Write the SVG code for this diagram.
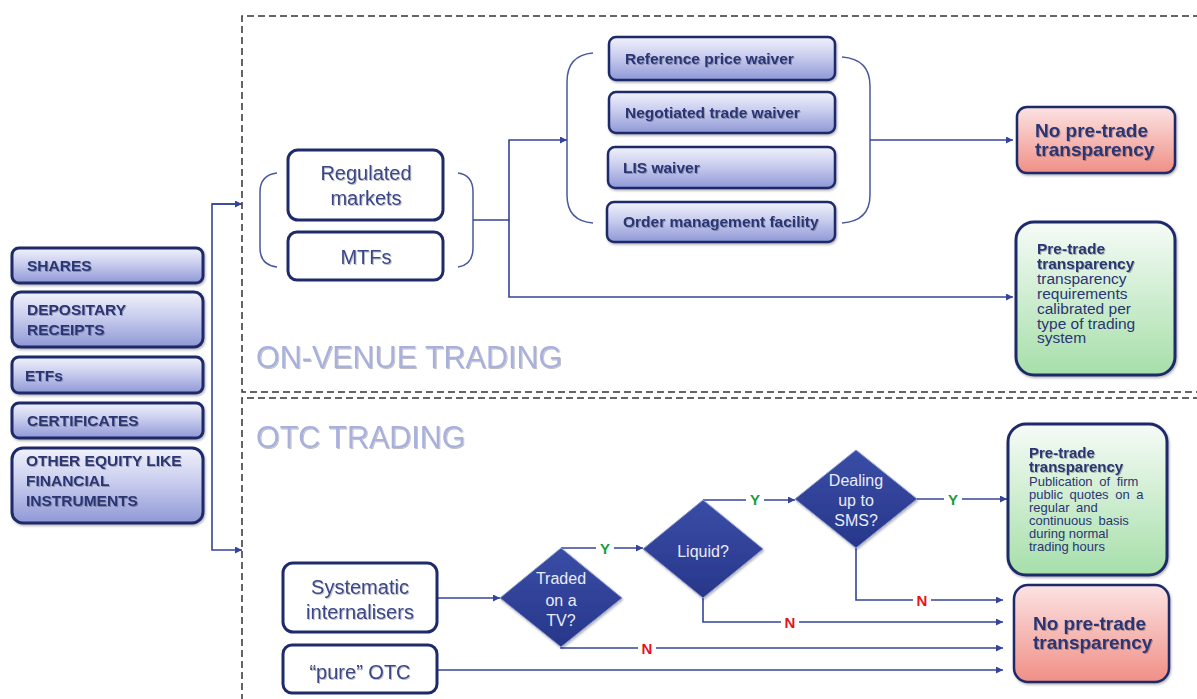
<svg xmlns="http://www.w3.org/2000/svg" width="1197" height="699" viewBox="0 0 1197 699">
<defs>
  <linearGradient id="gBlue" x1="0" y1="0" x2="0" y2="1">
    <stop offset="0" stop-color="#f1f2fb"/>
    <stop offset="0.45" stop-color="#c9cdee"/>
    <stop offset="1" stop-color="#8f98d6"/>
  </linearGradient>
  <linearGradient id="gRed" x1="0" y1="0" x2="0" y2="1">
    <stop offset="0" stop-color="#fbe3e3"/>
    <stop offset="1" stop-color="#f08f86"/>
  </linearGradient>
  <linearGradient id="gGreen" x1="0" y1="0" x2="0" y2="1">
    <stop offset="0" stop-color="#f6fbf7"/>
    <stop offset="1" stop-color="#a6dfa9"/>
  </linearGradient>
  <linearGradient id="gDia" x1="0" y1="0" x2="0" y2="1">
    <stop offset="0" stop-color="#3a4da6"/>
    <stop offset="1" stop-color="#27378a"/>
  </linearGradient>
  <filter id="sh" x="-10%" y="-10%" width="120%" height="130%">
    <feDropShadow dx="1" dy="1.5" stdDeviation="1.2" flood-color="#000" flood-opacity="0.3"/>
  </filter>
  <filter id="tsh" x="-5%" y="-20%" width="110%" height="150%">
    <feDropShadow dx="1" dy="1" stdDeviation="0.6" flood-color="#000" flood-opacity="0.25"/>
  </filter>
  <marker id="arr" viewBox="0 0 10 10" refX="10" refY="5" markerWidth="7" markerHeight="7" orient="auto" markerUnits="userSpaceOnUse">
    <path d="M0,0 L10,5 L0,10 z" fill="#34449a"/>
  </marker>
  <style>
    .lbox { fill: url(#gBlue); stroke: #1f2a6b; stroke-width: 3; filter: url(#sh); }
    .wbox { fill: url(#gBlue); stroke: #1f2a6b; stroke-width: 2.5; filter: url(#sh); }
    .obox { fill: #ffffff; stroke: #1f2a6b; stroke-width: 3; }
    .rbox { fill: url(#gRed); stroke: #1f2a6b; stroke-width: 2.5; filter: url(#sh); }
    .gbox { fill: url(#gGreen); stroke: #1f2a6b; stroke-width: 3; filter: url(#sh); }
    .dia { fill: url(#gDia); stroke: #8b98cf; stroke-width: 1; filter: url(#sh); }
    .bt { font-family: "Liberation Sans", Arial, sans-serif; font-weight: bold; fill: #2a3573; filter: url(#tsh); }
    .lt { font-size: 15.5px; }
    .wt { font-size: 15.5px; }
    .nt { font-family: "Liberation Sans", Arial, sans-serif; fill: #3b4788; font-size: 20px; text-anchor: middle; filter: url(#tsh); }
    .dt { font-family: "Liberation Sans", Arial, sans-serif; fill: #e9ecf8; font-size: 16px; text-anchor: middle; }
    .big { font-size: 19px; }
    .rt { font-family: "Liberation Sans", Arial, sans-serif; fill: #2a3573; }
    .sec { font-family: "Liberation Sans", Arial, sans-serif; font-size: 30.5px; fill: #a9b0db; filter: url(#tsh); }
    .dash { fill: none; stroke: #333; stroke-width: 1.5; stroke-dasharray: 7 4; }
    .c { fill: none; stroke: #34449a; stroke-width: 1.6; }
    .br { fill: none; stroke: #4a58a0; stroke-width: 1.5; }
    .yl { font-family: "Liberation Sans", Arial, sans-serif; font-weight: bold; font-size: 15px; fill: #1e9b3e; text-anchor: middle; }
    .nl { font-family: "Liberation Sans", Arial, sans-serif; font-weight: bold; font-size: 15px; fill: #e3141c; text-anchor: middle; }
    .lblbg { fill: #ffffff; }
  </style>
</defs>

<rect width="1197" height="699" fill="#ffffff"/>

<!-- section frames -->
<g id="frames">
  <path class="dash" d="M1200,16 H242 V392 H1200"/>
  <path class="dash" d="M1200,398 H242 V710"/>
  <text class="sec" x="256" y="368">ON-VENUE TRADING</text>
  <text class="sec" x="256" y="448">OTC TRADING</text>
</g>

<!-- brackets -->
<g id="brackets">
  <path class="br" d="M277,173 Q260,175 260,192 V248 Q260,265 277,267"/>
  <path class="br" d="M458,173 Q473,175 473,192 V248 Q473,265 458,267"/>
  <path class="br" d="M593,53 Q567,55 567,82 V195 Q567,221 593,223"/>
  <path class="br" d="M842,57 Q870,59 870,86 V195 Q870,221 842,223"/>
</g>

<!-- connectors -->
<g id="connectors">
  <path class="c" d="M242,204 H212 V550 H242" marker-end="url(#arr)"/>
  <path class="c" d="M212,204 H242" marker-end="url(#arr)"/>
  <path class="c" d="M473,220 H509 V140 H567" marker-end="url(#arr)"/>
  <path class="c" d="M509,220 V297 H1013" marker-end="url(#arr)"/>
  <path class="c" d="M870,140 H1013" marker-end="url(#arr)"/>
  <path class="c" d="M437,598 H500" marker-end="url(#arr)"/>
  <path class="c" d="M561,548 H643" marker-end="url(#arr)"/>
  <path class="c" d="M703,500 H795" marker-end="url(#arr)"/>
  <path class="c" d="M917,499 H1007" marker-end="url(#arr)"/>
  <path class="c" d="M856,548 V600 H1003" marker-end="url(#arr)"/>
  <path class="c" d="M703,598 V622 H1003" marker-end="url(#arr)"/>
  <path class="c" d="M561,647 V648 H1003" marker-end="url(#arr)"/>
  <path class="c" d="M437,670 H1003" marker-end="url(#arr)"/>
  <rect class="lblbg" x="596" y="538" width="18" height="20"/>
  <text class="yl" x="605" y="554">Y</text>
  <rect class="lblbg" x="746" y="489" width="18" height="20"/>
  <text class="yl" x="755" y="505">Y</text>
  <rect class="lblbg" x="944" y="489" width="18" height="20"/>
  <text class="yl" x="953" y="505">Y</text>
  <rect class="lblbg" x="913" y="590" width="18" height="20"/>
  <text class="nl" x="922" y="606">N</text>
  <rect class="lblbg" x="781" y="612" width="18" height="20"/>
  <text class="nl" x="790" y="628">N</text>
  <rect class="lblbg" x="638" y="638" width="18" height="20"/>
  <text class="nl" x="647" y="654">N</text>
</g>

<!-- instrument boxes -->
<g id="shares">
  <rect class="lbox" x="12" y="248" width="191" height="35" rx="7"/>
  <text class="bt lt" x="27" y="271">SHARES</text>
</g>
<g id="depositary">
  <rect class="lbox" x="12" y="292" width="191" height="55" rx="9"/>
  <text class="bt lt" x="27" y="315">DEPOSITARY</text>
  <text class="bt lt" x="27" y="335">RECEIPTS</text>
</g>
<g id="etfs">
  <rect class="lbox" x="12" y="357" width="191" height="36" rx="7"/>
  <text class="bt lt" x="25" y="381">ETFs</text>
</g>
<g id="certificates">
  <rect class="lbox" x="12" y="403" width="191" height="35" rx="7"/>
  <text class="bt lt" x="27" y="426">CERTIFICATES</text>
</g>
<g id="other-equity">
  <rect class="lbox" x="12" y="448" width="191" height="75" rx="11"/>
  <text class="bt lt" x="26" y="466">OTHER EQUITY LIKE</text>
  <text class="bt lt" x="26" y="486">FINANCIAL</text>
  <text class="bt lt" x="26" y="506">INSTRUMENTS</text>
</g>

<!-- venues -->
<g id="regulated-markets">
  <rect class="obox" x="288" y="150" width="155" height="70" rx="10"/>
  <text class="nt" x="366" y="180">Regulated</text>
  <text class="nt" x="366" y="205">markets</text>
</g>
<g id="mtfs">
  <rect class="obox" x="288" y="232" width="155" height="48" rx="9"/>
  <text class="nt" x="366" y="264">MTFs</text>
</g>

<!-- waivers -->
<g id="reference-price-waiver">
  <rect class="wbox" x="609" y="37" width="226" height="43" rx="7"/>
  <text class="bt wt" x="625" y="64">Reference price waiver</text>
</g>
<g id="negotiated-trade-waiver">
  <rect class="wbox" x="609" y="92" width="226" height="41" rx="7"/>
  <text class="bt wt" x="625" y="118">Negotiated trade waiver</text>
</g>
<g id="lis-waiver">
  <rect class="wbox" x="608" y="147" width="227" height="41" rx="7"/>
  <text class="bt wt" x="623" y="173">LIS waiver</text>
</g>
<g id="order-management-facility">
  <rect class="wbox" x="607" y="202" width="228" height="40" rx="7"/>
  <text class="bt wt" x="623" y="227">Order management facility</text>
</g>

<!-- on-venue outcomes -->
<g id="no-pretrade-top">
  <rect class="rbox" x="1017" y="107" width="158" height="66" rx="10"/>
  <text class="bt big" x="1035" y="137">No pre-trade</text>
  <text class="bt big" x="1035" y="156">transparency</text>
</g>
<g id="pretrade-top">
  <rect class="gbox" x="1016" y="222" width="159" height="153" rx="18"/>
  <text class="bt" x="1037" y="254" font-size="15.5">Pre-trade</text>
  <text class="bt" x="1037" y="269" font-size="15.5">transparency</text>
  <text class="rt" x="1037" y="284" font-size="15.5">transparency</text>
  <text class="rt" x="1037" y="299" font-size="15.5">requirements</text>
  <text class="rt" x="1037" y="314" font-size="15.5">calibrated per</text>
  <text class="rt" x="1037" y="328.5" font-size="15.5">type of trading</text>
  <text class="rt" x="1037" y="343" font-size="15.5">system</text>
</g>

<!-- OTC -->
<g id="systematic-internalisers">
  <rect class="obox" x="283" y="563" width="154" height="69" rx="10"/>
  <text class="nt" x="360" y="594">Systematic</text>
  <text class="nt" x="360" y="619">internalisers</text>
</g>
<g id="pure-otc">
  <rect class="obox" x="283" y="645" width="154" height="48" rx="9"/>
  <text class="nt" x="360" y="679">“pure” OTC</text>
</g>
<g id="traded-on-tv">
  <path class="dia" d="M561,548 L622,598 L561,647 L500,598 Z"/>
  <text class="dt" x="561" y="584">Traded</text>
  <text class="dt" x="561" y="606">on a</text>
  <text class="dt" x="561" y="626">TV?</text>
</g>
<g id="liquid">
  <path class="dia" d="M703,500 L763,549 L703,598 L643,549 Z"/>
  <text class="dt" x="703" y="557">Liquid?</text>
</g>
<g id="dealing-sms">
  <path class="dia" d="M856,450 L917,499 L856,548 L795,499 Z"/>
  <text class="dt" x="856" y="486">Dealing</text>
  <text class="dt" x="856" y="506">up to</text>
  <text class="dt" x="856" y="526">SMS?</text>
</g>
<g id="pretrade-bottom">
  <rect class="gbox" x="1008" y="424" width="159" height="151" rx="18"/>
  <text class="bt" x="1029" y="458" font-size="15">Pre-trade</text>
  <text class="bt" x="1029" y="472" font-size="15">transparency</text>
  <text class="rt" x="1029" y="486" font-size="13" word-spacing="3">Publication of firm</text>
  <text class="rt" x="1029" y="499" font-size="13" word-spacing="3">public quotes on a</text>
  <text class="rt" x="1029" y="512" font-size="13" word-spacing="3">regular and</text>
  <text class="rt" x="1029" y="525" font-size="13" word-spacing="3">continuous basis</text>
  <text class="rt" x="1029" y="538" font-size="13">during normal</text>
  <text class="rt" x="1029" y="551" font-size="13">trading hours</text>
</g>
<g id="no-pretrade-bottom">
  <rect class="rbox" x="1014" y="585" width="155" height="97" rx="14"/>
  <text class="bt big" x="1033" y="630">No pre-trade</text>
  <text class="bt big" x="1033" y="649">transparency</text>
</g>
</svg>
